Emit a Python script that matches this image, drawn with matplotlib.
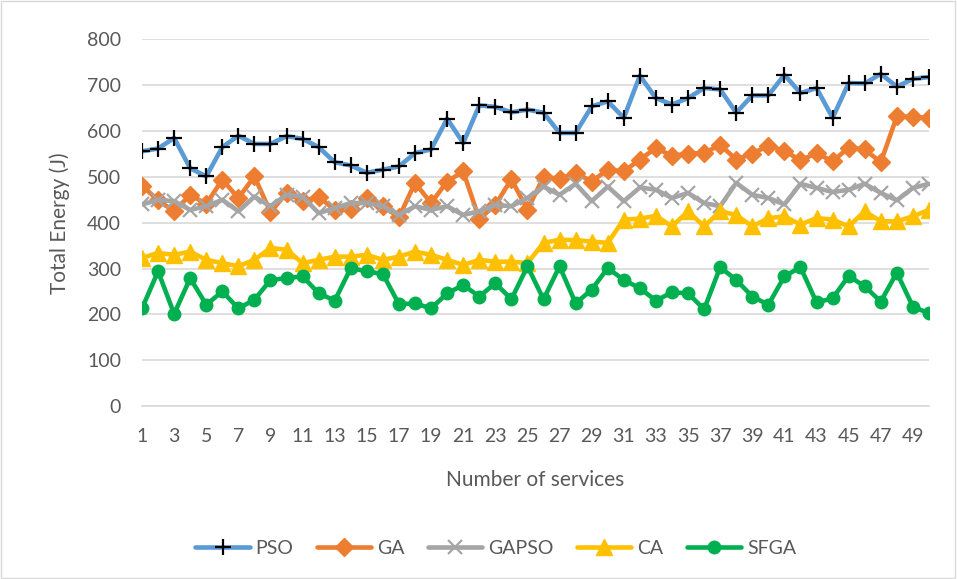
import matplotlib.pyplot as plt
from matplotlib.patches import Rectangle

plt.rcParams['font.family'] = ['Lato', 'DejaVu Sans']

services = list(range(1, 51))

pso = [556, 562, 585, 519, 501, 565, 590, 572, 572, 589,
       583, 565, 532, 525, 509, 516, 523, 552, 560, 627,
       574, 656, 653, 641, 647, 640, 596, 596, 654, 665,
       629, 721, 672, 658, 672, 694, 691, 640, 678, 678,
       723, 683, 694, 629, 705, 704, 725, 697, 714, 718]

ga = [481, 449, 425, 461, 441, 494, 454, 501, 423, 465,
      447, 457, 428, 431, 454, 436, 412, 487, 443, 490,
      512, 408, 439, 495, 428, 500, 496, 509, 490, 516,
      512, 538, 563, 546, 551, 552, 570, 538, 551, 568,
      557, 536, 552, 534, 564, 560, 532, 632, 631, 629]

gapso = [440, 450, 447, 428, 436, 450, 425, 457, 436, 461,
         457, 421, 432, 443, 443, 436, 417, 436, 428, 436,
         417, 425, 439, 436, 454, 479, 461, 485, 447, 479,
         447, 477, 472, 454, 465, 443, 436, 487, 461, 454,
         440, 485, 476, 467, 472, 485, 465, 449, 476, 485]

ca = [323, 334, 330, 337, 319, 312, 305, 319, 345, 341,
      312, 319, 326, 326, 330, 319, 326, 337, 330, 319,
      308, 319, 315, 315, 312, 356, 363, 362, 359, 356,
      407, 409, 415, 392, 425, 392, 425, 417, 392, 410,
      414, 396, 410, 407, 392, 425, 403, 403, 414, 428]

sfga = [213, 294, 201, 279, 221, 250, 213, 232, 275, 279,
        283, 246, 230, 301, 294, 288, 222, 224, 213, 246,
        264, 239, 268, 233, 305, 233, 305, 224, 254, 301,
        275, 257, 230, 248, 246, 211, 303, 275, 239, 221,
        283, 303, 226, 235, 284, 261, 228, 291, 217, 202]

series = [
    ("PSO", pso, "#5B9BD5", dict(marker="+", ms=12, mec="black", mew=1.6)),
    ("GA", ga, "#ED7D31", dict(marker="D", ms=9, mec="#ED7D31")),
    ("GAPSO", gapso, "#A5A5A5", dict(marker="x", ms=10, mec="#A5A5A5", mew=1.6)),
    ("CA", ca, "#FFC000", dict(marker="^", ms=11, mec="#FFC000")),
    ("SFGA", sfga, "#00B050", dict(marker="o", ms=9, mec="#00B050")),
]

fig = plt.figure(figsize=(9.57, 5.79), dpi=100)
ax = fig.add_axes([0.1484, 0.2988, 0.8223, 0.633])

for name, vals, color, mk in series:
    ax.plot(services, vals, color=color, linewidth=3.3, label=name,
            solid_capstyle="round", solid_joinstyle="round", **mk)

ax.set_xlim(1, 50)
ax.set_ylim(0, 800)
ax.set_yticks(range(0, 801, 100))
ax.set_xticks(range(1, 50, 2))
ax.grid(axis="y", color="#D9D9D9", linewidth=1.2)
ax.set_axisbelow(True)
for s in ["top", "right", "left"]:
    ax.spines[s].set_visible(False)
ax.spines["bottom"].set_color("#D9D9D9")
ax.spines["bottom"].set_linewidth(1.2)
ax.tick_params(length=0, labelsize=14, colors="#595959")
ax.tick_params(axis="x", pad=16)
ax.tick_params(axis="y", pad=15)

ax.set_xlabel("Number of services", fontsize=15, color="#595959", labelpad=18)
ax.set_ylabel("Total Energy (J)", fontsize=15, color="#595959", labelpad=12)

fig.legend(loc="center", bbox_to_anchor=(0.518, 0.0535), ncol=5, frameon=False,
           fontsize=14, labelcolor="#595959", handlelength=2.8, columnspacing=1.2,
           handletextpad=0.3)

fig.patches.append(Rectangle((0.001, 0.002), 0.997, 0.996, transform=fig.transFigure,
                             fill=False, edgecolor="#D9D9D9", linewidth=1))

fig.savefig("out.png", dpi=100)
